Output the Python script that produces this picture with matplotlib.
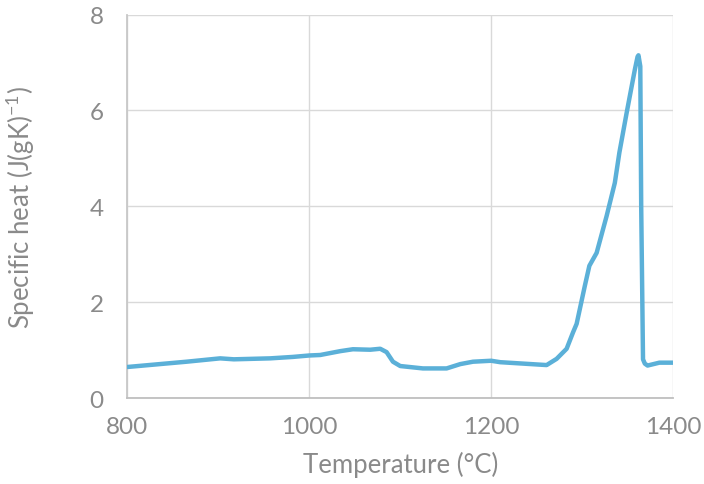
import matplotlib
matplotlib.use("Agg")
import matplotlib.pyplot as plt

# temperature (°C) and specific heat (J/(gK))
temperature = [800, 865, 902, 917, 957, 982, 1000, 1012, 1034, 1048, 1067, 1078, 1085,
               1092, 1100, 1125, 1151, 1166, 1180, 1200, 1210, 1261, 1272, 1283, 1290,
               1294, 1303, 1308, 1316, 1327, 1336, 1341, 1349, 1358, 1361, 1362, 1364,
               1365, 1367, 1369, 1372, 1385, 1400]
specific_heat = [0.65, 0.76, 0.83, 0.81, 0.83, 0.86, 0.89, 0.90, 0.98, 1.02, 1.01, 1.03, 0.96,
                 0.76, 0.67, 0.62, 0.62, 0.71, 0.76, 0.78, 0.75, 0.69, 0.82, 1.03, 1.37,
                 1.55, 2.34, 2.76, 3.03, 3.80, 4.49, 5.12, 5.95, 6.85, 7.12, 7.15, 6.92,
                 4.0, 0.81, 0.72, 0.68, 0.74, 0.74]

x_ticks = [800, 1000, 1200, 1400]
y_ticks = [0, 2, 4, 6, 8]

text_color = "#8a8a8a"
plt.rcParams["font.family"] = ["Lato", "DejaVu Sans"]

fig = plt.figure(figsize=(7.04, 4.85), dpi=100)
ax = fig.add_axes([0.181, 0.177, 0.775, 0.791])

ax.plot(temperature, specific_heat, color="#5bb0d8", lw=3.2, solid_joinstyle="round",
        solid_capstyle="round", zorder=3)

ax.set_xlim(800, 1400)
ax.set_ylim(0, 8)
ax.set_xticks(x_ticks)
ax.set_yticks(y_ticks)
ax.grid(True, color="#d9d9d9", lw=1)
ax.set_axisbelow(True)

for side in ["top", "right"]:
    ax.spines[side].set_visible(False)
ax.spines["left"].set_color("#c8c8c8")
ax.spines["bottom"].set_color("#bfbfbf")
ax.spines["left"].set_linewidth(1.3)
ax.spines["bottom"].set_linewidth(1.3)

ax.tick_params(length=0, labelsize=17.5, labelcolor=text_color, pad=13)
ax.tick_params(axis="y", pad=17)

ax.set_xlabel("Temperature (°C)", fontsize=18.5, color=text_color, labelpad=10)
ax.set_ylabel("Specific heat (J(gK)$^{\\mathregular{-1}}$)", fontsize=18.5,
              color=text_color, labelpad=38)

fig.savefig("out.png", dpi=100)
